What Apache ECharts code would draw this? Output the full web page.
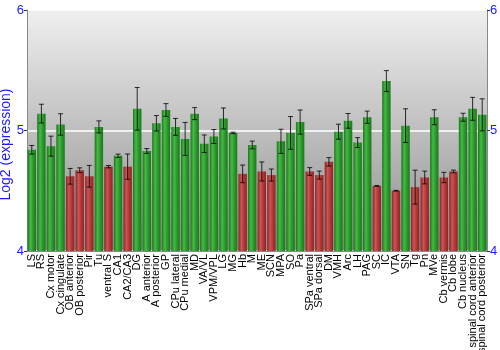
<!DOCTYPE html>
<html>
<head>
<meta charset="utf-8">
<script src="https://cdn.jsdelivr.net/npm/echarts@6/dist/echarts.min.js"></script>
<style>
  html, body { margin: 0; padding: 0; background: #fff; }
  #chart { width: 500px; height: 350px; }
</style>
</head>
<body>
<div id="chart"></div>
<script>
// Brain regions along the x axis
const regions = [
  'LS', 'RS', 'Cx motor', 'Cx cingulate', 'OB anterior', 'OB posterior', 'Pir', 'Tu',
  'ventral S', 'CA1', 'CA2/CA3', 'DG', 'A anterior', 'A posterior', 'GP', 'CPu lateral',
  'CPu medial', 'MD', 'VA/VL', 'VPM/VPL', 'LG', 'MG', 'Hb', 'M', 'ME', 'SCN', 'MPA', 'SO',
  'Pa', 'SPa ventral', 'SPa dorsal', 'DM', 'VMH', 'Arc', 'LH', 'PAG', 'SC', 'IC', 'VTA',
  'SN', 'Tg', 'Pn', 'MVe', 'Cb vermis', 'Cb lobe', 'Cb nucleus',
  'spinal cord anterior', 'spinal cord posterior'
];

// Mean log2 expression per region
const expression = [
  4.84, 5.14, 4.87, 5.05, 4.62, 4.67, 4.62, 5.03,
  4.70, 4.79, 4.70, 5.18, 4.83, 5.06, 5.17, 5.03,
  4.93, 5.14, 4.89, 4.95, 5.10, 4.98, 4.64, 4.88, 4.66, 4.63, 4.91, 4.98,
  5.07, 4.66, 4.63, 4.74, 4.99, 5.08, 4.90, 5.11, 4.54, 5.41, 4.50,
  5.04, 4.53, 4.61, 5.11, 4.61, 4.66, 5.11,
  5.18, 5.13
];

// Standard error per region
const stdError = [
  0.036, 0.078, 0.083, 0.089, 0.065, 0.020, 0.090, 0.050,
  0.010, 0.014, 0.105, 0.177, 0.020, 0.064, 0.053, 0.070,
  0.137, 0.050, 0.073, 0.058, 0.087, 0.006, 0.073, 0.032, 0.079, 0.050, 0.100, 0.136,
  0.100, 0.032, 0.033, 0.035, 0.062, 0.061, 0.041, 0.051, 0.003, 0.087, 0.003,
  0.140, 0.141, 0.053, 0.062, 0.043, 0.011, 0.033,
  0.095, 0.133
];

// 1 = low-expression region (red), 0 = others (green)
const lowFlag = [
  0, 0, 0, 0, 1, 1, 1, 0,
  1, 0, 1, 0, 0, 0, 0, 0,
  0, 0, 0, 0, 0, 0, 1, 0, 1, 1, 0, 0,
  0, 1, 1, 1, 0, 0, 0, 0, 1, 0, 1,
  0, 1, 1, 0, 1, 1, 0,
  0, 0
];

const yTicks = [4, 5, 6];

function barGradient(base, light, dark) {
  return new echarts.graphic.LinearGradient(0, 0, 1, 0, [
    { offset: 0, color: dark },
    { offset: 0.35, color: light },
    { offset: 0.6, color: base },
    { offset: 1, color: dark }
  ]);
}
const greenFill = barGradient('#2f9e2f', '#44bb44', '#1c771c');
const redFill = barGradient('#b83c3c', '#cc5555', '#8a2424');

const barData = expression.map((v, i) => ({
  value: v,
  itemStyle: { color: lowFlag[i] ? redFill : greenFill }
}));

const errData = expression.map((v, i) => [i, v - stdError[i], v + stdError[i]]);

const chart = echarts.init(document.getElementById('chart'), null, { renderer: 'canvas' });

const axisBlue = '#1a1aff';
const font = 'Liberation Sans, Arial, sans-serif';
const yAxisCommon = {
  type: 'value',
  min: 4,
  max: 6,
  interval: 1,
  axisLine: { show: true, lineStyle: { color: '#888', width: 1 } },
  axisTick: { show: true, length: 3, lineStyle: { color: '#333' } },
  axisLabel: {
    color: axisBlue, fontSize: 13, fontFamily: font, margin: 3,
    formatter: v => (yTicks.indexOf(v) >= 0 ? String(v) : '')
  },
  splitLine: { show: false }
};

chart.setOption({
  animation: false,
  grid: { left: 27, right: 13, top: 10, bottom: 99, containLabel: false, outerBoundsMode: 'none' },
  graphic: [{
    type: 'rect',
    z: -10,
    shape: { x: 27, y: 10, width: 460, height: 241 },
    style: {
      fill: new echarts.graphic.LinearGradient(0, 0, 0, 1, [
        { offset: 0, color: '#efefef' },
        { offset: 1, color: '#8e8e8e' }
      ])
    }
  }],
  xAxis: {
    type: 'category',
    data: regions,
    axisLine: { show: true, lineStyle: { color: '#888' } },
    axisTick: { show: false },
    axisLabel: {
      interval: 0,
      rotate: 90,
      color: '#000',
      fontSize: 11,
      fontFamily: font,
      margin: 3
    }
  },
  yAxis: [
    Object.assign({}, yAxisCommon, {
      position: 'left',
      name: 'Log2 (expression)',
      nameLocation: 'middle',
      nameGap: 14,
      nameMoveOverlap: false,
      nameRotate: 90,
      nameTextStyle: { color: axisBlue, fontSize: 14, fontFamily: font, padding: [0, 28, 0, 0] },
      splitLine: {
        show: true,
        lineStyle: { color: '#ffffff', width: 1.5 }
      }
    }),
    Object.assign({}, yAxisCommon, { position: 'right' })
  ],
  series: [
    {
      type: 'bar',
      data: barData,
      barCategoryGap: '12%',
      yAxisIndex: 0
    },
    {
      type: 'custom',
      yAxisIndex: 0,
      data: errData,
      z: 10,
      renderItem: function (params, api) {
        const x = api.value(0);
        const lo = api.coord([x, api.value(1)]);
        const hi = api.coord([x, api.value(2)]);
        const cap = 2.5;
        const style = { stroke: 'rgba(0,0,0,0.8)', lineWidth: 1 };
        return {
          type: 'group',
          children: [
            { type: 'line', shape: { x1: lo[0], y1: lo[1], x2: hi[0], y2: hi[1] }, style },
            { type: 'line', shape: { x1: lo[0] - cap, y1: lo[1], x2: lo[0] + cap, y2: lo[1] }, style },
            { type: 'line', shape: { x1: hi[0] - cap, y1: hi[1], x2: hi[0] + cap, y2: hi[1] }, style }
          ]
        };
      }
    }
  ]
});
</script>
</body>
</html>
